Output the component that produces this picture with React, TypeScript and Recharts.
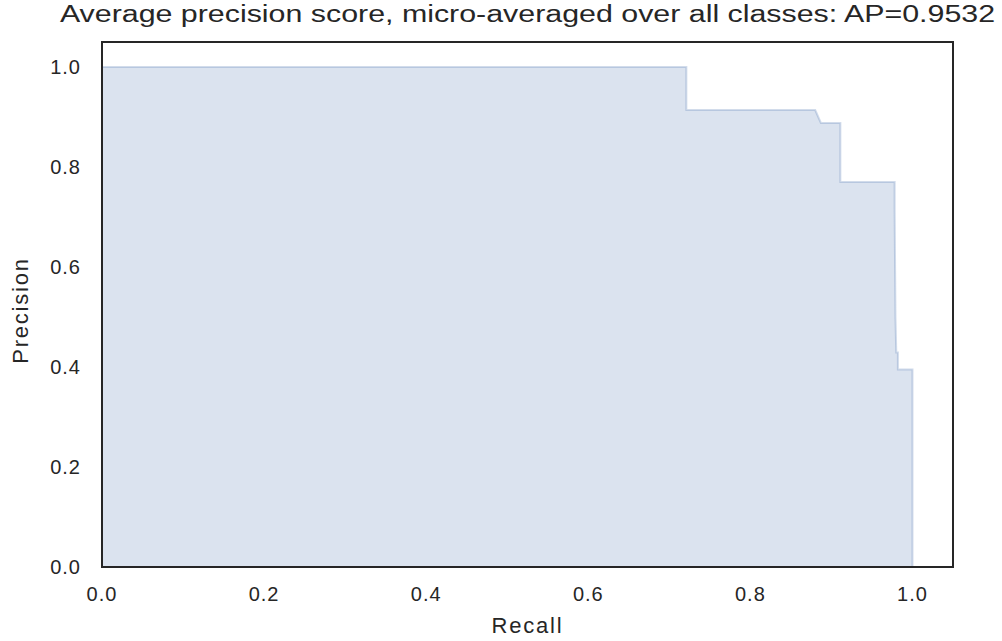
import React from 'react';
import {
  AreaChart, Area, XAxis, YAxis, ReferenceArea, Label,
} from 'recharts';

// left to right
const recall = [0, 0.721, 0.721, 0.880, 0.887, 0.911, 0.911, 0.978, 0.978, 0.979, 0.980, 0.982, 0.982, 1.0, 1.0];
const precision = [1.0, 1.0, 0.914, 0.914, 0.888, 0.888, 0.770, 0.770, 0.715, 0.50, 0.429, 0.429, 0.395, 0.395, 0];

const ticks = [0, 0.2, 0.4, 0.6, 0.8, 1.0];

const data = recall.map((r, i) => ({ recall: r, precision: precision[i] }));

const font = 'Liberation Sans, Arial, sans-serif';
const textColor = '#262626';

const tickStyle = { fill: textColor, fontSize: 20, fontFamily: font, letterSpacing: 1 };
const labelStyle = { fill: textColor, fontSize: 22, fontFamily: font, letterSpacing: 1.8 };

const App = () => (
  <div style={ { position: 'absolute', left: 0, top: 0, width: 1002, height: 641, fontFamily: font, background: '#fff' } }>
    <div
      style={ {
        position: 'absolute', left: 102, width: 851, top: 1, textAlign: 'center',
        fontSize: 23, color: textColor, whiteSpace: 'nowrap',
        transform: 'scaleX(1.32)', transformOrigin: 'center',
      } }
    >
      Average precision score, micro-averaged over all classes: AP=0.9532
    </div>
    <AreaChart
      width={ 1002 }
      height={ 641 }
      data={ data }
      margin={ { top: 42, right: 49, bottom: 14, left: 42 } }
    >
      <XAxis
        dataKey="recall"
        type="number"
        domain={ [0, 1.05] }
        ticks={ ticks }
        tickFormatter={ (v: number) => v.toFixed(1) }
        allowDataOverflow
        tickLine={ false }
        axisLine={ false }
        tickSize={ 0 }
        tickMargin={ 20 }
        height={ 60 }
        tick={ tickStyle }
      >
        <Label value="Recall" position="insideBottom" offset={ -6 } style={ labelStyle } />
      </XAxis>
      <YAxis
        type="number"
        domain={ [0, 1.05] }
        ticks={ ticks }
        tickFormatter={ (v: number) => v.toFixed(1) }
        allowDataOverflow
        tickLine={ false }
        axisLine={ false }
        tickSize={ 0 }
        tickMargin={ 21 }
        width={ 60 }
        tick={ tickStyle }
      >
        <Label
          value="Precision"
          angle={ -90 }
          position="insideLeft"
          offset={ -22 }
          dy={ 6 }
          style={ { ...labelStyle, textAnchor: 'middle' } }
        />
      </YAxis>
      <Area
        type="linear"
        dataKey="precision"
        stroke="#4C72B0"
        strokeOpacity={ 0.25 }
        strokeWidth={ 2 }
        fill="#4C72B0"
        fillOpacity={ 0.2 }
        isAnimationActive={ false }
      />
      <ReferenceArea
        x1={ 0 }
        x2={ 1.05 }
        y1={ 0 }
        y2={ 1.05 }
        fill="none"
        stroke={ textColor }
        strokeWidth={ 2 }
        ifOverflow="visible"
      />
    </AreaChart>
  </div>
);

export default App;
